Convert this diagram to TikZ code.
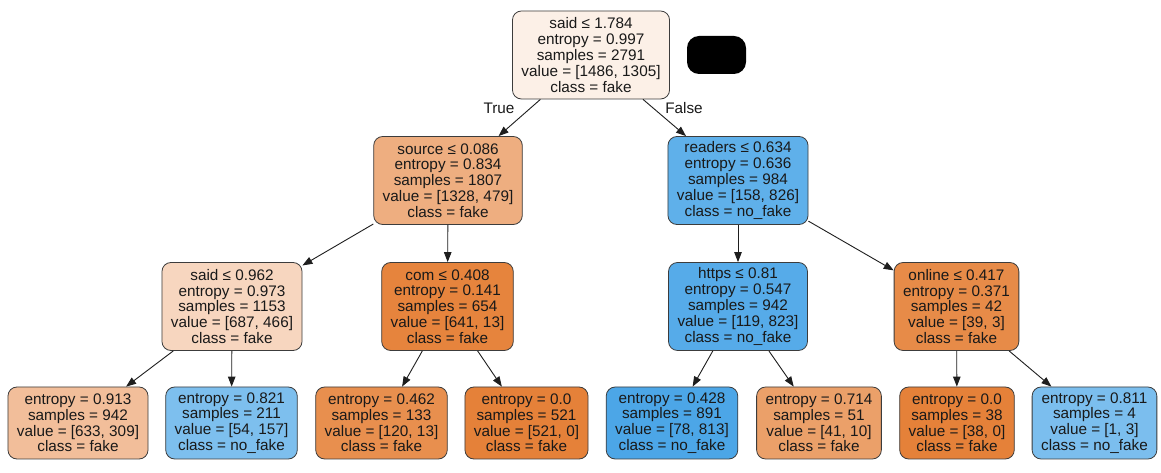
\documentclass[tikz,border=0pt]{standalone}
\usepackage{fontspec}
\setmainfont{Liberation Sans}
\usetikzlibrary{arrows.meta}

% node fill colours (class colour blended with white by purity)
\definecolor{nRoot}{RGB}{252,240,231}
\definecolor{nSource}{RGB}{238,174,128}
\definecolor{nReaders}{RGB}{95,176,234}
\definecolor{nSaidB}{RGB}{247,214,191}
\definecolor{nCom}{RGB}{230,132,61}
\definecolor{nHttps}{RGB}{86,171,233}
\definecolor{nOnline}{RGB}{231,139,72}
\definecolor{lfA}{RGB}{242,190,154}
\definecolor{lfB}{RGB}{125,191,238}
\definecolor{lfC}{RGB}{232,143,78}
\definecolor{lfD}{RGB}{229,129,57}
\definecolor{lfE}{RGB}{76,166,231}
\definecolor{lfF}{RGB}{235,160,105}
\definecolor{lfG}{RGB}{229,129,57}
\definecolor{lfH}{RGB}{123,190,238}
\definecolor{edgecol}{RGB}{30,30,30}
\definecolor{bordercol}{RGB}{60,60,60}
\definecolor{txtcol}{RGB}{25,25,25}

\tikzset{
  treenode/.style={draw=bordercol, line width=0.8bp, rounded corners=9bp,
    align=center, inner xsep=9bp, inner ysep=3bp, text=txtcol,
    font=\fontsize{15.3bp}{15.8bp}\selectfont},
  splitnode/.style={treenode, minimum height=88bp},
  leafnode/.style={treenode, minimum height=72bp},
  edge/.style={draw=edgecol, line width=0.9bp,
    -{Triangle[length=10bp,width=7.5bp]}},
  branchlabel/.style={text=txtcol, font=\fontsize{15.3bp}{15.8bp}\selectfont}
}

\begin{document}
\begin{tikzpicture}[x=1bp,y=-1bp]
\fill[white] (0,0) rectangle (1161,473);
\useasboundingbox (0,0) rectangle (1161,473);

% split nodes
\node[splitnode, fill=nRoot] (root) at (591,55)
  {said ≤ 1.784\\entropy = 0.997\\samples = 2791\\value = [1486, 1305]\\class = fake};
\node[fill=black, rounded corners=12bp, minimum width=59bp, minimum height=38bp, inner sep=0pt] (mask) at (716.5,55) {};

\node[splitnode, fill=nSource] (source) at (448,180.5)
  {source ≤ 0.086\\entropy = 0.834\\samples = 1807\\value = [1328, 479]\\class = fake};
\node[splitnode, fill=nReaders] (readers) at (738,180.5)
  {readers ≤ 0.634\\entropy = 0.636\\samples = 984\\value = [158, 826]\\class = no\_fake};

\node[splitnode, fill=nSaidB] (said) at (232,306.5)
  {said ≤ 0.962\\entropy = 0.973\\samples = 1153\\value = [687, 466]\\class = fake};
\node[splitnode, fill=nCom] (com) at (447.5,306.5)
  {com ≤ 0.408\\entropy = 0.141\\samples = 654\\value = [641, 13]\\class = fake};
\node[splitnode, fill=nHttps] (https) at (738,306.5)
  {https ≤ 0.81\\entropy = 0.547\\samples = 942\\value = [119, 823]\\class = no\_fake};
\node[splitnode, fill=nOnline] (online) at (956.5,306.5)
  {online ≤ 0.417\\entropy = 0.371\\samples = 42\\value = [39, 3]\\class = fake};

% leaves
\node[leafnode, fill=lfA] (leafA) at (78,423)
  {entropy = 0.913\\samples = 942\\value = [633, 309]\\class = fake};
\node[leafnode, fill=lfB] (leafB) at (231.5,423)
  {entropy = 0.821\\samples = 211\\value = [54, 157]\\class = no\_fake};
\node[leafnode, fill=lfC] (leafC) at (381.5,423)
  {entropy = 0.462\\samples = 133\\value = [120, 13]\\class = fake};
\node[leafnode, fill=lfD] (leafD) at (526.5,423)
  {entropy = 0.0\\samples = 521\\value = [521, 0]\\class = fake};
\node[leafnode, fill=lfE] (leafE) at (672,423)
  {entropy = 0.428\\samples = 891\\value = [78, 813]\\class = no\_fake};
\node[leafnode, fill=lfF] (leafF) at (819,423)
  {entropy = 0.714\\samples = 51\\value = [41, 10]\\class = fake};
\node[leafnode, fill=lfG] (leafG) at (957,423)
  {entropy = 0.0\\samples = 38\\value = [38, 0]\\class = fake};
\node[leafnode, fill=lfH] (leafH) at (1094.5,423)
  {entropy = 0.811\\samples = 4\\value = [1, 3]\\class = no\_fake};

% edges
\draw[edge] (root) -- (source);
\draw[edge] (root) -- (readers);
\draw[edge] (source) -- (said);
\draw[edge] (source) -- (com);
\draw[edge] (readers) -- (https);
\draw[edge] (readers) -- (online);
\draw[edge] (said) -- (leafA);
\draw[edge] (said) -- (leafB);
\draw[edge] (com) -- (leafC);
\draw[edge] (com) -- (leafD);
\draw[edge] (https) -- (leafE);
\draw[edge] (https) -- (leafF);
\draw[edge] (online) -- (leafG);
\draw[edge] (online) -- (leafH);

% branch labels
\node[branchlabel] (lblTrue) at (499,108) {True};
\node[branchlabel] (lblFalse) at (684,108) {False};
\end{tikzpicture}
\end{document}
